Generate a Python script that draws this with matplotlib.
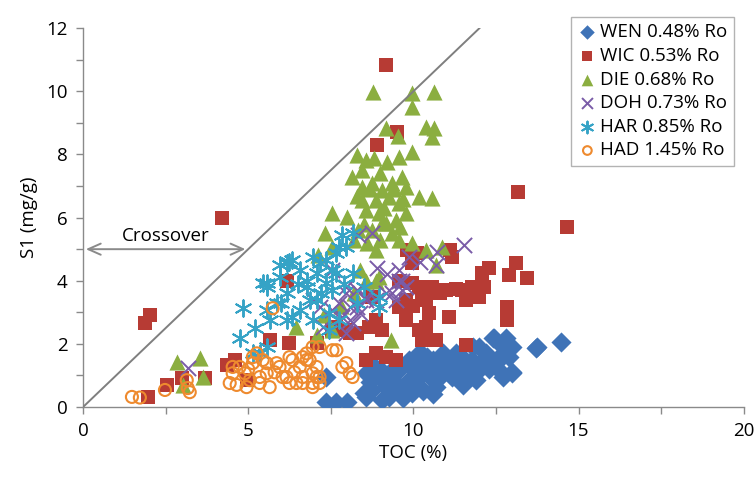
import matplotlib
matplotlib.use("Agg")
import matplotlib.pyplot as plt
from matplotlib.ticker import MultipleLocator

plt.rcParams['font.family'] = ['Open Sans', 'DejaVu Sans']

# TOC (%) and S1 (mg/g) per well
wen_toc = [7.37, 7.67, 7.98, 7.37, 8.5, 8.58, 8.58, 8.76, 8.97, 9.06, 9.18, 9.27, 9.58, 9.6, 9.6,
           9.8, 9.88, 9.97, 10.0, 10.1, 10.18, 10.2, 10.4, 10.5, 10.57, 10.7, 10.8, 10.9, 11.0, 11.18,
           11.2, 11.48, 11.6, 11.6, 11.7, 11.78, 11.9, 12.0, 12.1, 12.3, 12.4, 12.45, 12.6, 12.6, 12.7,
           12.7, 12.8, 12.9, 13.0, 13.0, 13.0, 13.7, 13.75, 14.47, 8.8, 9.3, 9.4, 9.9, 10.3, 10.6,
           10.9, 11.3, 11.4, 11.8, 12.2, 10.2, 10.8, 9.5, 9.0, 8.7, 9.2, 9.7, 10.3, 10.6, 11.1,
           11.5, 12.0, 12.3, 12.5, 10.4, 9.8, 11.9, 10.1]
wen_s1 = [0.16, 0.16, 0.16, 0.95, 0.44, 1.07, 0.32, 0.54, 0.95, 0.22, 0.63, 0.32, 1.17, 1.27, 0.63,
          1.4, 1.49, 0.44, 0.63, 1.5, 0.95, 0.63, 1.17, 0.95, 1.27, 0.63, 0.95, 1.7, 1.49, 0.95,
          1.27, 1.58, 1.17, 0.95, 1.4, 1.49, 0.85, 1.17, 1.5, 1.49, 2.2, 2.2, 1.6, 1.17, 1.9,
          0.95, 2.2, 1.58, 1.9, 1.07, 1.1, 1.87, 1.9, 2.06, 1.3, 1.1, 0.8, 0.9, 1.2, 0.4,
          1.2, 1.7, 1.3, 1.9, 1.7, 1.75, 1.6, 0.5, 1.2, 0.8, 0.9, 0.3, 0.5, 1.5, 1.1,
          0.7, 1.9, 1.2, 1.4, 1.6, 0.6, 1.3, 1.1]

wic_toc = [4.2, 9.18, 8.9, 9.5, 13.17, 14.65, 2.02, 1.87, 1.96, 2.54, 2.99, 3.69, 4.35, 4.6, 4.95,
           5.65, 6.25, 6.16, 7.07, 7.55, 7.97, 8.28, 8.67, 8.76, 8.88, 7.67, 8.07, 8.88, 9.06, 8.58,
           9.18, 9.48, 9.58, 9.78, 9.97, 10.1, 10.27, 10.18, 9.58, 9.97, 9.78, 10.18, 10.57, 10.39, 10.48,
           10.39, 10.27, 10.7, 11.0, 11.18, 11.48, 11.09, 11.6, 11.78, 12.08, 12.3, 12.0, 12.14, 12.9, 13.1,
           13.45, 12.84, 12.84, 10.8, 11.3, 10.0, 11.6, 11.1, 9.8]
wic_s1 = [5.98, 10.85, 8.3, 8.7, 6.8, 5.7, 2.9, 2.65, 0.32, 0.7, 0.92, 0.92, 1.33, 1.49, 0.85,
          2.12, 2.02, 4.0, 2.02, 2.44, 2.44, 2.34, 2.53, 3.48, 1.7, 2.53, 2.34, 2.75, 2.44, 1.49,
          1.58, 1.49, 3.16, 2.75, 4.55, 4.87, 3.39, 2.44, 4.0, 3.92, 3.39, 3.8, 3.8, 3.39, 2.97,
          2.53, 2.12, 2.12, 3.7, 4.75, 3.7, 2.85, 1.96, 3.8, 4.24, 4.4, 3.48, 3.8, 4.18, 4.55,
          4.08, 3.16, 2.75, 3.6, 3.75, 3.2, 3.4, 4.97, 4.97]

die_toc = [8.79, 9.97, 10.63, 9.97, 9.18, 9.52, 10.39, 10.57, 10.63, 8.28, 8.58, 8.82, 9.21, 9.58, 9.97,
           8.13, 8.46, 8.43, 8.76, 9.06, 9.36, 9.67, 9.79, 10.18, 10.57, 8.46, 8.88, 9.27, 9.58, 7.55,
           8.0, 8.58, 8.97, 9.18, 9.48, 9.79, 7.31, 8.31, 9.36, 7.1, 9.58, 9.97, 10.39, 10.88, 9.06,
           10.69, 9.33, 6.46, 7.07, 2.84, 3.53, 3.63, 3.02, 7.55, 8.37, 8.76, 8.88, 8.88, 8.58, 8.97,
           7.55, 9.0, 8.6, 7.8, 8.2, 7.3, 8.3, 8.7, 9.1, 9.4, 8.5, 9.0, 9.7, 8.2, 9.6]
die_s1 = [9.97, 9.94, 9.97, 9.5, 8.83, 8.6, 8.86, 8.54, 8.83, 7.97, 7.82, 7.88, 7.75, 7.91, 8.07,
          7.28, 7.5, 6.96, 7.09, 6.87, 7.09, 7.28, 6.96, 6.65, 6.61, 6.55, 6.55, 6.65, 6.46, 6.14,
          6.01, 6.23, 6.14, 5.82, 5.92, 6.14, 5.5, 5.6, 5.5, 4.81, 5.28, 5.19, 4.97, 5.06, 5.82,
          4.49, 2.12, 2.53, 2.28, 1.42, 1.55, 0.95, 0.7, 5.06, 4.34, 5.6, 4.0, 4.97, 4.0, 4.12,
          2.44, 5.3, 5.2, 3.2, 3.6, 2.9, 6.7, 6.9, 6.3, 6.9, 5.8, 7.4, 6.6, 5.3, 5.7]

doh_toc = [3.17, 11.54, 10.72, 10.69, 9.88, 8.76, 8.31, 7.55, 7.97, 8.58, 9.18, 9.48, 9.58, 9.79, 8.28,
           7.85, 7.55, 7.16, 6.95, 8.16, 7.97, 8.28, 8.88, 9.36, 9.58, 9.67, 7.76, 7.25, 8.07, 8.37,
           8.07, 7.97, 8.58, 9.67, 10.2, 9.2, 8.9]
doh_s1 = [1.23, 5.13, 4.9, 4.49, 4.75, 5.5, 5.44, 4.34, 3.8, 3.48, 3.6, 3.39, 4.0, 3.8, 3.16,
          2.85, 3.07, 3.16, 3.39, 2.66, 2.34, 3.7, 3.39, 3.6, 4.34, 3.7, 3.29, 2.53, 2.75, 2.97,
          3.16, 3.6, 3.39, 4.0, 4.6, 4.2, 4.4]

har_toc = [4.83, 5.2, 4.74, 5.56, 5.95, 6.25, 5.95, 6.56, 6.77, 5.86, 5.65, 6.16, 6.56, 6.16, 5.56,
           5.35, 6.95, 7.07, 6.86, 7.37, 7.37, 7.46, 7.67, 7.67, 5.14, 5.56, 6.34, 6.77, 7.07, 6.34,
           7.55, 7.97, 8.16, 7.76, 5.56, 7.16, 7.76, 7.55, 8.16, 8.28, 8.97, 8.97, 6.95, 7.46, 7.85,
           6.16, 5.44, 6.5, 7.2, 6.0, 7.9, 8.5]
har_s1 = [3.13, 2.5, 2.18, 3.92, 4.12, 4.59, 4.49, 4.34, 3.8, 3.29, 2.75, 2.75, 3.07, 3.6, 3.07,
          1.7, 4.75, 4.24, 3.39, 4.65, 3.92, 2.97, 4.87, 4.24, 1.7, 3.8, 4.65, 4.0, 3.39, 2.85,
          4.34, 5.06, 5.5, 2.75, 1.9, 4.55, 5.06, 3.7, 4.24, 3.29, 3.16, 3.48, 2.75, 2.44, 5.44,
          4.55, 3.92, 3.9, 3.6, 3.3, 3.9, 3.8]

had_toc = [1.48, 1.72, 2.48, 3.14, 3.17, 3.23, 4.44, 4.65, 4.53, 4.74, 5.14, 5.05, 4.95, 5.35, 5.56,
           5.65, 5.86, 6.04, 6.25, 6.34, 6.56, 6.65, 6.77, 6.95, 7.07, 7.16, 7.16, 6.95, 5.74, 7.67,
           7.97, 8.07, 8.16, 5.44, 5.26, 4.53, 5.35, 5.56, 5.95, 6.25, 6.16, 6.46, 6.65, 6.86, 7.07,
           6.95, 5.14, 4.9, 6.77, 6.95, 6.65, 7.16, 7.55, 7.85, 5.8, 6.4, 5.0]
had_s1 = [0.32, 0.3, 0.54, 0.85, 0.6, 0.47, 0.76, 0.7, 1.07, 1.27, 1.39, 0.85, 0.63, 0.76, 1.07,
          0.63, 1.39, 0.95, 0.76, 1.49, 1.27, 0.95, 1.7, 0.76, 1.27, 1.9, 0.95, 0.63, 3.13, 1.8,
          1.39, 1.07, 0.95, 1.49, 1.7, 1.27, 0.95, 1.39, 1.27, 1.58, 0.95, 0.76, 1.58, 1.49, 0.95,
          1.9, 1.58, 1.07, 1.49, 1.07, 0.76, 0.76, 1.8, 1.27, 1.1, 1.1, 1.2]

labels = ['WEN 0.48% Ro', 'WIC 0.53% Ro', 'DIE 0.68% Ro', 'DOH 0.73% Ro', 'HAR 0.85% Ro', 'HAD 1.45% Ro']

grey = '#8a8a8a'

fig = plt.figure(figsize=(7.55, 4.78), dpi=100)
ax = fig.add_axes([0.110, 0.1485, 0.875, 0.7925])

ax.scatter(wen_toc, wen_s1, marker='D', s=105, color='#3f73b7', linewidths=0, label=labels[0], zorder=3)
ax.scatter(wic_toc, wic_s1, marker='s', s=100, color='#b73b34', linewidths=0, label=labels[1], zorder=3)
ax.scatter(die_toc, die_s1, marker='^', s=135, color='#8bae40', linewidths=0, label=labels[2], zorder=3)
ax.scatter(doh_toc, doh_s1, marker='x', s=120, color='#7a5ca8', linewidths=1.4, label=labels[3], zorder=3)
ax.scatter(har_toc, har_s1, marker=(6, 2, 0), s=140, color='#35a3c6', linewidths=1.4, label=labels[4], zorder=3)
ax.scatter(had_toc, had_s1, marker='o', s=75, facecolors='none', edgecolors='#ee8a2e', linewidths=1.5,
           label=labels[5], zorder=3)

# 1:1 line and crossover arrow
ax.plot([0, 12], [0, 12], color='#7f7f7f', lw=1.4, zorder=4)
ax.annotate('', xy=(0, 5), xytext=(5, 5),
            arrowprops=dict(arrowstyle='<->,head_length=0.9,head_width=0.4', color=grey, lw=1.4))
ax.text(2.5, 5.12, 'Crossover', ha='center', va='bottom', fontsize=13.5)

ax.set_xlim(0, 20)
ax.set_ylim(0, 12)
ax.xaxis.set_major_locator(MultipleLocator(5))
ax.xaxis.set_minor_locator(MultipleLocator(2.5))
ax.yaxis.set_major_locator(MultipleLocator(2))
ax.yaxis.set_minor_locator(MultipleLocator(1))
ax.tick_params(which='both', direction='out', length=5, width=1, color=grey, labelsize=13.5, pad=6)

for side in ['top', 'right']:
    ax.spines[side].set_visible(False)
for side in ['left', 'bottom']:
    ax.spines[side].set_color(grey)
    ax.spines[side].set_linewidth(1)

ax.set_xlabel('TOC (%)', fontsize=13.5, labelpad=3)
ax.set_ylabel('S1 (mg/g)', fontsize=13.5, labelpad=6)

leg = ax.legend(loc='upper right', bbox_to_anchor=(1.0, 1.055), fontsize=13.5, frameon=True, fancybox=False,
                edgecolor='#a0a0a0', handletextpad=0.2, handlelength=1.0, labelspacing=0.3,
                borderpad=0.35, scatterpoints=1, markerscale=0.72)
leg.get_frame().set_linewidth(1)

fig.savefig('out.png', dpi=100)
